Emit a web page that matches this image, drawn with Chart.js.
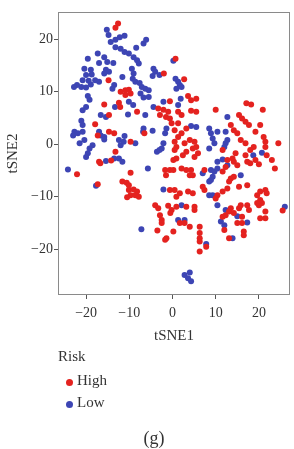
<!DOCTYPE html>
<html>
<head>
<meta charset="utf-8">
<script src="https://cdn.jsdelivr.net/npm/chart.js@4.4.0/dist/chart.umd.min.js"></script>
<style>
  html, body { margin: 0; padding: 0; background: #fff; }
  body { width: 294px; height: 449px; position: relative; overflow: hidden;
         font-family: "Liberation Serif", "DejaVu Serif", serif; color: #333; }
  #wrap { position: absolute; left: 0; top: 0; width: 294px; height: 349px; }
  .lg { position: absolute; font-size: 15px; line-height: 18px; white-space: nowrap; }
  .dot { position: absolute; width: 7px; height: 7px; border-radius: 50%; }
  #cap { position: absolute; left: 154px; top: 427px; transform: translateX(-50%);
         font-size: 18px; line-height: 22px; }
</style>
</head>
<body>
<div id="wrap"><canvas id="chart" width="294" height="349"></canvas></div>
<div class="lg" style="left:58px;top:347px">Risk</div>
<div class="dot" style="left:66px;top:379px;background:#e4221f"></div>
<div class="lg" style="left:77px;top:371px">High</div>
<div class="dot" style="left:66px;top:401px;background:#3d45b4"></div>
<div class="lg" style="left:77px;top:393px">Low</div>
<div id="cap">(g)</div>
<script>
// tSNE coordinates
const highX = [-13.2, -12.6, -14.8, -2.0, -12.0, -10.9, -10.1, -10.9, -9.7,
  0.7, 2.7, 3.6, 4.3, 5.5,
  -15.8, -12.4, -12.1, -8.2, -3.3, -2.1, -1.0, -2.9, -1.5, -0.6, -14.7, -17.9, -17.3, -14.7, -13.5, -9.7, -6.5, -13.2, -17.0, -16.7, -14.2, -22.1, -9.7, -1.7, -0.6, -1.5, -11.6, -10.6, -10.1, -17.3, -10.1, -9.0, -8.2, -9.7, -8.6, -7.8, -10.5, -0.6,
  -4.0, -3.3, -1.0, -0.2, -0.5, -2.9, -2.5, -2.5, -3.5, -1.4, -1.7, 0.2,
  -0.6, 1.3, 2.1, 4.3, 5.5, 10.0, 17.1, 18.2, 20.9, 15.4, 16.1, 16.9, 17.7, 20.3, 19.2, -0.2, 1.3, 3.2, 0.5, 2.1, 1.3, 0.5, 0.9, 0.5, 11.6, 13.5, 14.2, 15.0, 15.8, 16.9, 18.8, 18.0, 21.1, 21.5, 21.5, 21.8, 23.0, 24.5, 23.7, 16.9, 17.3, 18.0, 19.2, 20.0, 14.6, 13.9, 14.2, 15.0, 12.7, 12.3, 11.6, 4.7, 5.5, 5.9, 5.1, 5.1, 4.0, 2.8, 3.2, 2.4, 0.9, 0.2, 0.2, 2.1, 3.2, 4.3, 4.7, 4.0, 7.4, 13.5, 14.2, 13.1, 15.4, 17.3, 12.7, 0.5, 1.7, 0.9, 7.0, 7.4, 10.4, 10.0, 11.6, 19.6, 20.3, 21.5, 21.8,
  3.6, 4.7, 20.3, 20.7, 20.0, 0.9, 3.2, 5.1, 5.1, 1.7, 2.8, 4.0, 6.3, 6.3, 6.3, 6.3, 6.3, 7.8, 11.6, 12.3, 13.5, 13.1, 12.0, 16.1, 14.2, 15.4, 15.8, 17.3, 17.7, 15.0, 16.1, 16.5, 16.5, 13.1, 19.6, 20.3, 21.5, 21.5, 25.5];
const highY = [22.2, 23.0, 12.2, 13.5, 10.0, 10.3, 10.4, 9.4, 9.7,
  16.3, 12.4, 9.2, 8.4, 8.7,
  7.6, 7.9, 7.1, 6.2, 6.8, 6.6, 6.2, 5.6, 5.2, 4.9, 5.6, 3.8, 1.7, 2.4, 2.1, 0.5, 2.1, -1.4, -3.3, -3.6, -3.1, -5.7, -5.4, -4.9, -4.9, -5.9, -7.1, -7.3, -7.8, -7.6, -8.7, -8.6, -9.0, -9.7, -9.7, -10.0, -10.1, -8.7,
  -11.6, -12.2, -11.7, -12.5, -13.1, -13.5, -14.4, -15.0, -16.4, -17.9, -18.2, -16.6,
  8.2, 6.2, 5.6, 6.4, 6.2, 6.6, 7.8, 7.6, 6.6, 5.6, 4.9, 4.3, 3.7, 3.7, 2.4, 4.0, 4.0, 3.0, 2.7, 2.1, 1.4, 0.5, -0.5, -1.1, -1.1, 3.7, 2.7, 2.1, 0.8, 0.2, -0.5, -1.1, 1.4, 0.5, -0.5, -2.1, -3.0, 0.2, -4.6, -2.1, -3.3, -3.6, -3.0, -3.8, -1.7, -2.7, -3.3, -4.0, -3.0, -4.3, -5.2, -0.8, -0.5, -1.7, -2.4, 0.5, 0.8, 0.2, -1.4, -2.1, -2.7, -3.0, -4.9, -4.6, -4.9, -4.9, -5.9, -5.9, -4.9, -6.5, -6.2, -7.1, -8.1, -7.8, -8.4, -8.7, -9.3, -10.0, -8.1, -8.7, -9.7, -10.3, -9.0, -9.7, -9.0, -8.7, -9.3,
  -9.0, -9.3, -10.6, -11.2, -11.6, -11.9, -11.9, -11.9, -12.5, -15.0, -15.0, -15.7, -15.7, -16.9, -17.9, -18.5, -20.4, -19.5, -13.8, -13.5, -12.2, -12.8, -16.3, -13.8, -13.1, -12.2, -11.6, -11.6, -12.5, -15.0, -15.0, -16.6, -17.3, -17.9, -11.2, -14.1, -14.1, -12.8, -12.6];

const lowX = [-15.2, -14.8, -14.3, -13.2, -12.2, -11.1, -13.2, -12.0, -11.1, -10.1, -9.0, -8.2, -7.8, -8.4, -6.7, -6.1, -17.3, -19.6, -15.8, -15.1, -17.0, -13.7, -9.4, -9.0, -9.2, -15.4, -14.7, -15.8, -20.4, -18.9, -20.0, -18.7, -20.8, -19.4, -17.9, -17.0, -22.1, -22.8, -21.1, -20.0, -18.9, -19.6, -19.2, -13.5, -13.9, -11.6, -8.6, -7.6, -7.1, -6.3, -5.5, -7.4, -6.7, -5.5, -4.4, -4.0, -4.6, -3.0, 0.2,
  0.7, 1.3, 1.7, 0.9, 2.1, 1.9,
  -13.3, -10.1, -9.1, -10.3, -6.3, -4.4, -2.1, -20.0, -20.8, -16.6, -15.4, -21.1, -20.8, -22.7, -21.9, -23.0, -20.8, -21.5, -20.4, -18.5, -19.2, -19.6, -20.0, -17.0, -16.6, -15.8, -15.8, -12.4, -12.0, -11.1, -11.3, -8.6, -6.7, -6.8, -4.6, -1.7, -1.4, -2.1, -2.5, -3.6, -3.0, -13.5, -11.6, -12.4, -15.4, -24.2, -5.7, -17.7, -2.1,
  -7.2,
  1.3, 4.3, 5.5, 8.5, 8.9, 9.3, 9.7, 8.5, 10.4, 12.7, 12.3, 12.7, 12.3, 12.0, 20.7, 18.7, 10.4, 11.6, 12.7, 7.0, 8.9, 9.7, 9.3, 8.9, 8.5, 10.4, 15.8, 8.5, 9.3,
  2.1, 1.3, 2.8, 7.8, 2.8, 4.0, 3.6, 4.3, 10.4, 12.3, 11.2, 12.0, 15.0, 17.3, 13.9, 26.0];
const lowY = [21.8, 20.8, 19.5, 19.9, 20.4, 20.7, 18.5, 18.2, 17.6, 17.3, 16.6, 16.0, 15.4, 18.4, 19.2, 19.9, 17.3, 16.3, 16.6, 15.7, 15.5, 15.5, 14.4, 13.5, 12.5, 14.2, 13.8, 13.5, 14.4, 14.2, 13.2, 13.3, 12.2, 12.1, 12.2, 11.9, 11.3, 10.9, 10.9, 10.8, 11.4, 9.2, 8.5, 11.3, 10.6, 12.8, 11.9, 11.7, 10.9, 10.6, 10.3, 9.7, 8.9, 9.0, 14.4, 13.8, 13.0, 13.2, 15.9,
  12.5, 11.9, 11.3, 10.6, 10.9, 8.7,
  7.1, 8.1, 7.5, 5.7, 5.6, 7.1, 8.1, 7.1, 6.5, 5.6, 5.2, 4.5, 3.7, 2.4, 2.1, 1.7, 2.4, 0.2, 0.8, -0.2, -0.8, -1.7, -2.4, 2.4, 1.7, 1.4, 0.9, 0.8, -0.2, 1.6, 0.5, 0.2, 3.0, 2.4, 2.6, 2.1, 3.0, 0.2, -0.8, -1.4, -1.1, -2.7, -3.3, -2.7, -3.2, -4.8, -4.6, -7.9, -8.6,
  -16.2,
  7.5, 3.5, 3.3, 3.0, 2.1, 1.1, 0.2, -0.8, 2.4, 5.2, 2.4, 0.8, 0.2, -0.5, -1.6, -2.1, -3.3, -2.9, -4.0, -5.5, -4.9, -5.2, -6.2, -6.8, -7.1, -4.6, -5.9, -9.7, -9.7,
  -11.6, -14.4, -14.4, -19.0, -24.9, -24.4, -25.5, -26.1, -11.6, -12.5, -14.7, -15.4, -13.7, -14.9, -17.9, -11.9];

const xTicks = [-20, -10, 0, 10, 20];
const yTicks = [-20, -10, 0, 10, 20];
const xRange = [-26.5, 27.2];
const yRange = [-28.7, 25.2];

const serif = '"Liberation Serif", "DejaVu Serif", serif';

function pairs(xs, ys) {
  return xs.map((x, i) => ({x: x, y: ys[i]}));
}

function minus(v) {
  return v < 0 ? '\u2212' + Math.abs(v) : String(v);
}

// ggplot-like panel border
const frame = {
  id: 'frame',
  afterDraw(chart) {
    const {ctx, chartArea: a} = chart;
    ctx.save();
    ctx.strokeStyle = '#8a8a8a';
    ctx.lineWidth = 1;
    ctx.strokeRect(a.left + 0.5, a.top + 0.5, a.right - a.left - 1, a.bottom - a.top - 1);
    ctx.restore();
  }
};

const ctx = document.getElementById('chart').getContext('2d');

new Chart(ctx, {
  type: 'scatter',
  data: {
    datasets: [{
      label: 'High',
      data: pairs(highX, highY),
      backgroundColor: '#e4221f',
      borderWidth: 0,
      pointRadius: 3
    }, {
      label: 'Low',
      data: pairs(lowX, lowY),
      backgroundColor: '#3d45b4',
      borderWidth: 0,
      pointRadius: 3
    }]
  },
  options: {
    responsive: false,
    animation: false,
    layout: { padding: { top: 12, right: 1, left: 0, bottom: 0 } },
    plugins: {
      legend: { display: false },
      tooltip: { enabled: false }
    },
    scales: {
      x: {
        type: 'linear',
        min: xRange[0],
        max: xRange[1],
        afterBuildTicks: s => { s.ticks = xTicks.map(v => ({value: v})); },
        afterFit: s => { s.height = 54; },
        grid: { drawOnChartArea: false, drawTicks: true, tickLength: 4, color: '#555' },
        border: { display: false },
        ticks: { color: '#333', font: { family: serif, size: 14 }, padding: 6, maxRotation: 0,
                 callback: v => minus(v) },
        title: { display: true, text: 'tSNE1', color: '#333',
                 font: { family: serif, size: 15 }, padding: { top: 0, bottom: 4 } }
      },
      y: {
        type: 'linear',
        min: yRange[0],
        max: yRange[1],
        afterBuildTicks: s => { s.ticks = yTicks.map(v => ({value: v})); },
        afterFit: s => { s.width = 58; },
        grid: { drawOnChartArea: false, drawTicks: true, tickLength: 4, color: '#555' },
        border: { display: false },
        ticks: { color: '#333', font: { family: serif, size: 14 }, padding: 1,
                 callback: v => minus(v) },
        title: { display: true, text: 'tSNE2', color: '#333',
                 font: { family: serif, size: 15 }, padding: { top: 4, bottom: 0 } }
      }
    }
  },
  plugins: [frame]
});
</script>
</body>
</html>
